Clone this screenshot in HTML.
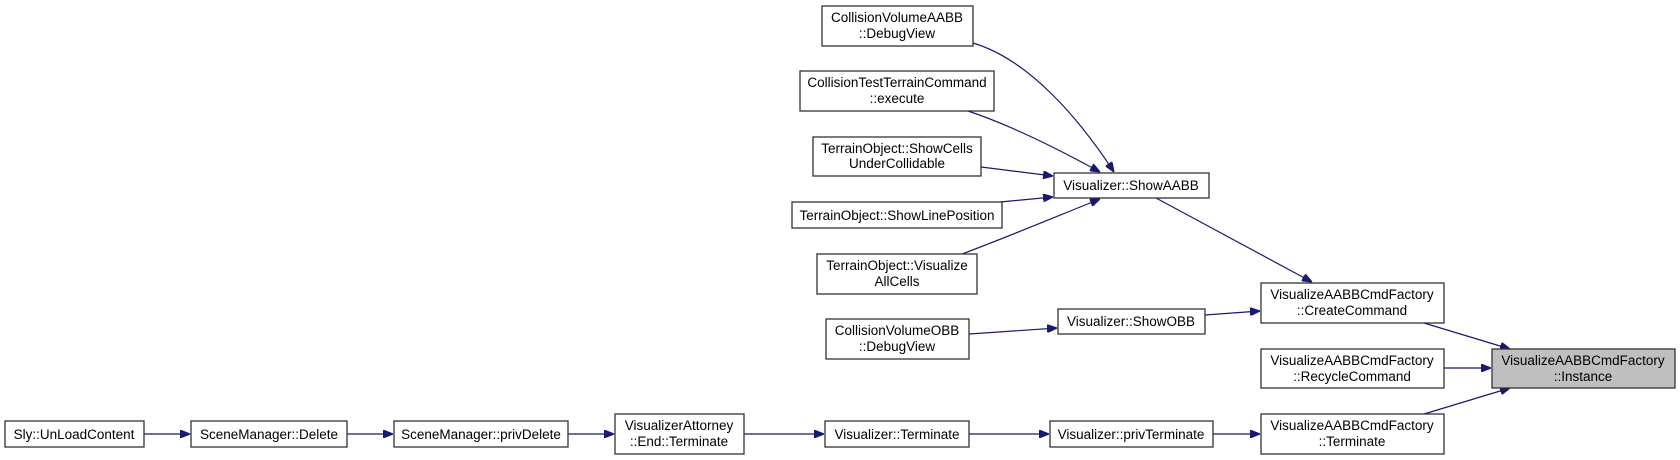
<!DOCTYPE html>
<html><head><meta charset="utf-8"><style>
html,body{margin:0;padding:0;background:#fff;}
svg{display:block;}
text{font-family:"Liberation Sans",Arial,sans-serif;font-size:13.5px;fill:#000;text-anchor:middle;}
rect{fill:#fff;stroke:#333;stroke-width:1.3;}
path{fill:none;stroke:#191970;stroke-width:1.2;}
</style></head><body>
<svg width="1680" height="460" viewBox="0 0 1680 460" xmlns="http://www.w3.org/2000/svg">
<defs><marker id="a" markerWidth="10" markerHeight="8" refX="10" refY="4" orient="auto" markerUnits="userSpaceOnUse"><path d="M0,0 L10,4 L0,8 Z" style="fill:#191970;stroke:#191970"/></marker></defs>

<path d="M973,43 C1030,60 1080,120 1114,172" marker-end="url(#a)"/>
<path d="M968,111 C1010,125 1060,150 1100,172" marker-end="url(#a)"/>
<path d="M981,167 L1053,176" marker-end="url(#a)"/>
<path d="M1000,202 L1053,197" marker-end="url(#a)"/>
<path d="M962,254 C1010,236 1060,215 1100,199" marker-end="url(#a)"/>
<path d="M1156,198 L1312,282" marker-end="url(#a)"/>
<path d="M1205,315 L1260,311" marker-end="url(#a)"/>
<path d="M969,334 L1057,328" marker-end="url(#a)"/>
<path d="M1424,323 L1510,349" marker-end="url(#a)"/>
<path d="M1444,368 L1491,368" marker-end="url(#a)"/>
<path d="M1424,414 L1510,388" marker-end="url(#a)"/>
<path d="M1213,434 L1260,434" marker-end="url(#a)"/>
<path d="M969,434 L1049,434" marker-end="url(#a)"/>
<path d="M744,434 L824,434" marker-end="url(#a)"/>
<path d="M568,434 L614,434" marker-end="url(#a)"/>
<path d="M347,434 L393,434" marker-end="url(#a)"/>
<path d="M144,434 L190,434" marker-end="url(#a)"/>

<rect x="822" y="6" width="151" height="40"/><text x="897" y="22">CollisionVolumeAABB</text><text x="897" y="38">::DebugView</text>
<rect x="800" y="71" width="194" height="40"/><text x="897" y="87">CollisionTestTerrainCommand</text><text x="897" y="103">::execute</text>
<rect x="813" y="137" width="168" height="39"/><text x="897" y="153">TerrainObject::ShowCells</text><text x="897" y="168">UnderCollidable</text>
<rect x="792" y="202" width="210" height="26"/><text x="897" y="220">TerrainObject::ShowLinePosition</text>
<rect x="817" y="254" width="160" height="40"/><text x="897" y="270">TerrainObject::Visualize</text><text x="897" y="286">AllCells</text>
<rect x="826" y="319" width="143" height="40"/><text x="897" y="335">CollisionVolumeOBB</text><text x="897" y="351">::DebugView</text>
<rect x="1054" y="173" width="155" height="25"/><text x="1131" y="190">Visualizer::ShowAABB</text>
<rect x="1058" y="309" width="147" height="25"/><text x="1131" y="326">Visualizer::ShowOBB</text>
<rect x="1261" y="283" width="183" height="40"/><text x="1352" y="299">VisualizeAABBCmdFactory</text><text x="1352" y="315">::CreateCommand</text>
<rect x="1261" y="349" width="183" height="39"/><text x="1352" y="365">VisualizeAABBCmdFactory</text><text x="1352" y="381">::RecycleCommand</text>
<rect x="1261" y="414" width="183" height="40"/><text x="1352" y="430">VisualizeAABBCmdFactory</text><text x="1352" y="446">::Terminate</text>
<rect x="1492" y="349" width="183" height="39" style="fill:#bfbfbf"/><text x="1583" y="365">VisualizeAABBCmdFactory</text><text x="1583" y="381">::Instance</text>
<rect x="5" y="421" width="139" height="26"/><text x="74" y="439">Sly::UnLoadContent</text>
<rect x="191" y="421" width="156" height="26"/><text x="269" y="439">SceneManager::Delete</text>
<rect x="394" y="421" width="174" height="26"/><text x="481" y="439">SceneManager::privDelete</text>
<rect x="615" y="414" width="129" height="40"/><text x="679" y="430">VisualizerAttorney</text><text x="679" y="446">::End::Terminate</text>
<rect x="825" y="421" width="144" height="26"/><text x="897" y="439">Visualizer::Terminate</text>
<rect x="1050" y="421" width="163" height="26"/><text x="1131" y="439">Visualizer::privTerminate</text>
</svg>
</body></html>
